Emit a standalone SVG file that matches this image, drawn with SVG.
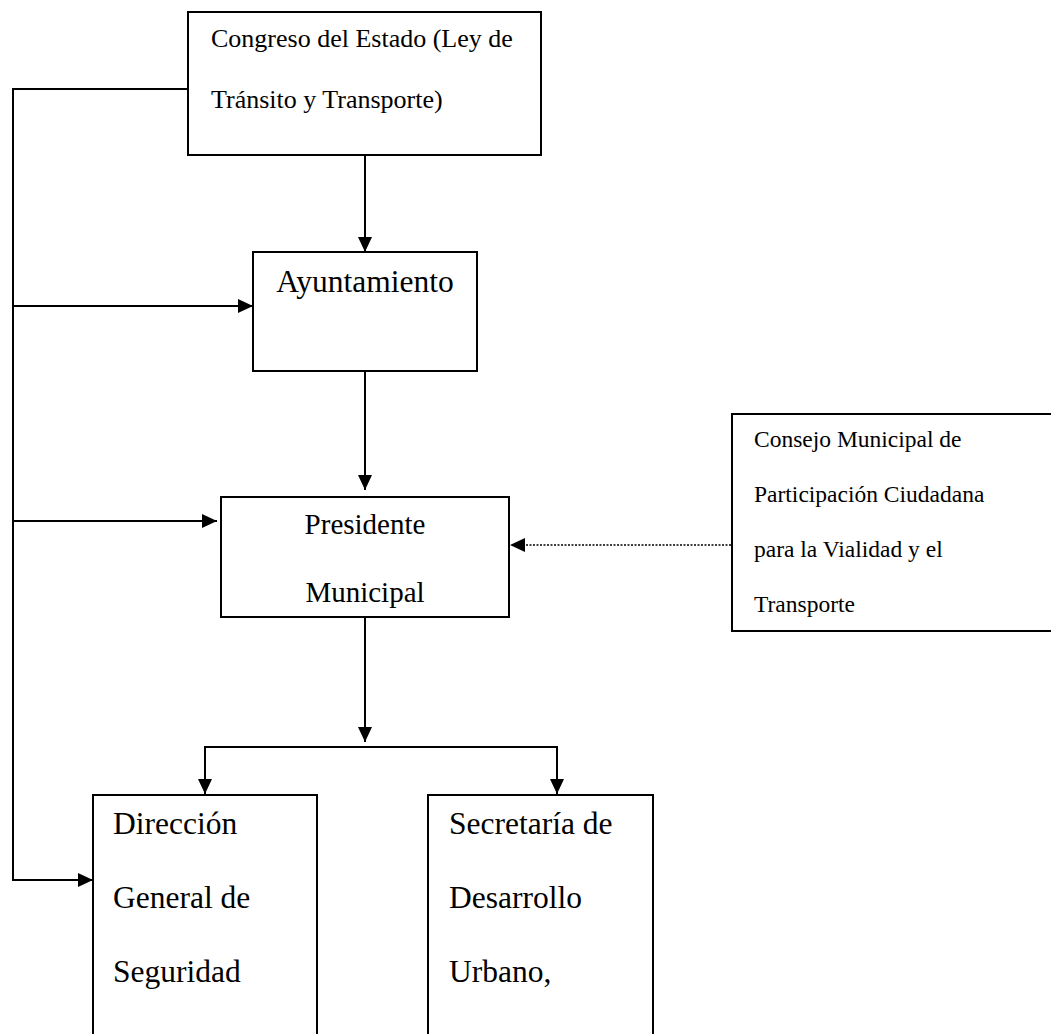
<svg xmlns="http://www.w3.org/2000/svg" width="1051" height="1034" viewBox="0 0 1051 1034">
  <style>
    .box { fill: #ffffff; stroke: #000000; stroke-width: 2; }
    .edge { fill: none; stroke: #000000; stroke-width: 2; }
    .dot { fill: none; stroke: #000000; stroke-width: 1.6; stroke-dasharray: 2 1.5; }
    text { font-family: "Liberation Serif", "Times New Roman", serif; fill: #000000; }
  </style>
  <defs>
    <marker id="arr" viewBox="0 0 15 14" refX="15" refY="7" markerWidth="15" markerHeight="14" markerUnits="userSpaceOnUse" orient="auto">
      <path d="M0,0 L15,7 L0,14 Z" fill="#000000"/>
    </marker>
  </defs>
  <rect width="1051" height="1034" fill="#ffffff"/>

  <g id="connectors">
    <path class="edge" d="M188,89 H13 V880 H93" marker-end="url(#arr)"/>
    <path class="edge" d="M13,306 H253" marker-end="url(#arr)"/>
    <path class="edge" d="M13,521 H217" marker-end="url(#arr)"/>
    <path class="edge" d="M365,155 V252" marker-end="url(#arr)"/>
    <path class="edge" d="M365,371 V490" marker-end="url(#arr)"/>
    <path class="edge" d="M365,617 V742" marker-end="url(#arr)"/>
    <path class="edge" d="M205,795 V747 H557 V795" />
    <path class="edge" d="M205,747 V794" marker-end="url(#arr)"/>
    <path class="edge" d="M557,747 V794" marker-end="url(#arr)"/>
    <path class="dot" d="M731,545 H512"/>
    <path d="M510,545 L525,538 L525,552 Z" fill="#000000"/>
  </g>

  <g id="congreso">
    <rect class="box" x="188" y="12" width="353" height="143"/>
    <text x="211" y="47" font-size="26">Congreso del Estado (Ley de</text>
    <text x="211" y="108" font-size="26">Tránsito y Transporte)</text>
  </g>

  <g id="ayuntamiento">
    <rect class="box" x="253" y="252" width="224" height="119"/>
    <text x="365" y="292" font-size="31.5" text-anchor="middle">Ayuntamiento</text>
  </g>

  <g id="presidente">
    <rect class="box" x="221" y="497" width="288" height="120"/>
    <text x="365" y="534" font-size="29" text-anchor="middle">Presidente</text>
    <text x="365" y="602" font-size="29" text-anchor="middle">Municipal</text>
  </g>

  <g id="consejo">
    <path class="box" d="M1052,414 H732 V631 H1052"/>
    <text x="754" y="447" font-size="23.5">Consejo Municipal de</text>
    <text x="754" y="502" font-size="23.5">Participación Ciudadana</text>
    <text x="754" y="557" font-size="23.5">para la Vialidad y el</text>
    <text x="754" y="612" font-size="23.5">Transporte</text>
  </g>

  <g id="direccion">
    <path class="box" d="M93,1040 V795 H317 V1040"/>
    <text x="113" y="834" font-size="31.5">Dirección</text>
    <text x="113" y="908" font-size="31.5">General de</text>
    <text x="113" y="982" font-size="31.5">Seguridad</text>
  </g>

  <g id="secretaria">
    <path class="box" d="M428,1040 V795 H653 V1040"/>
    <text x="449" y="834" font-size="31.5">Secretaría de</text>
    <text x="449" y="908" font-size="31.5">Desarrollo</text>
    <text x="449" y="982" font-size="31.5">Urbano,</text>
  </g>
</svg>
